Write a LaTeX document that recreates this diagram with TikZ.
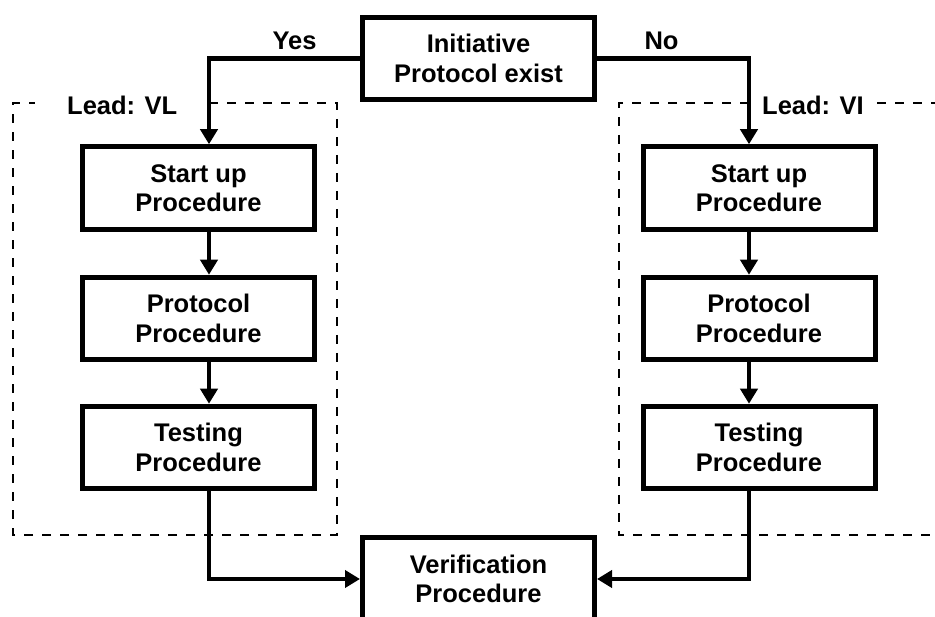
\documentclass[tikz,border=0pt]{standalone}
\usepackage{fontspec}
\setmainfont{Liberation Sans}
\usetikzlibrary{arrows.meta}
\begin{document}
\begin{tikzpicture}[x=1pt,y=-1pt,
  box/.style={draw,line width=5pt,minimum width=232pt,minimum height=82.5pt,align=center,inner sep=0pt,font=\fontsize{25.5}{29.5}\selectfont\bfseries},
  conn/.style={line width=4.8pt},
  arr/.style={conn,-{Triangle[length=15pt,width=17pt]}},
  lead/.style={line width=2.8pt,dash pattern=on 9pt off 9pt},
  lbl/.style={font=\fontsize{25.5}{29.5}\selectfont\bfseries,inner sep=0pt,anchor=base}]
\useasboundingbox (0,0) rectangle (935,617);
\clip (0,0) rectangle (935,617);
% group frames
\draw[lead] (209,103) -- (337,103) -- (337,535) -- (13,535) -- (13,103) -- (35,103);
\draw[lead] (749,103) -- (619,103) -- (619,535) -- (935,535);
\draw[lead] (877,103) -- (935,103);
% boxes
\node[box] (init) at (478.5,58.5) {Initiative\\Protocol exist};
\node[box] (ls) at (198.5,188) {Start up\\Procedure};
\node[box] (lp) at (198.5,318.5) {Protocol\\Procedure};
\node[box] (lt) at (198.5,447.5) {Testing\\Procedure};
\node[box] (rs) at (759,188) {Start up\\Procedure};
\node[box] (rp) at (759,318.5) {Protocol\\Procedure};
\node[box] (rt) at (759,447.5) {Testing\\Procedure};
\node[box] (ver) at (478.5,579) {Verification\\Procedure};
\coordinate (cl) at (209,0);
\coordinate (cr) at (749,0);
% connectors
\draw[arr] (init.west) -| (ls.north -| cl);
\draw[arr] (ls.south -| cl) -- (lp.north -| cl);
\draw[arr] (lp.south -| cl) -- (lt.north -| cl);
\draw[arr] (lt.south -| cl) |- (ver.west);
\draw[arr] (init.east) -| (rs.north -| cr);
\draw[arr] (rs.south -| cr) -- (rp.north -| cr);
\draw[arr] (rp.south -| cr) -- (rt.north -| cr);
\draw[arr] (rt.south -| cr) |- (ver.east);
% labels
\node[lbl] (yes) at (294.5,50) {Yes};
\node[lbl] (no) at (661.5,50) {No};
\node[lbl,anchor=base west] (leadl) at (67,115) {Lead: VL};
\node[lbl,anchor=base west] (leadr) at (762,115) {Lead: VI};
\end{tikzpicture}
\end{document}
